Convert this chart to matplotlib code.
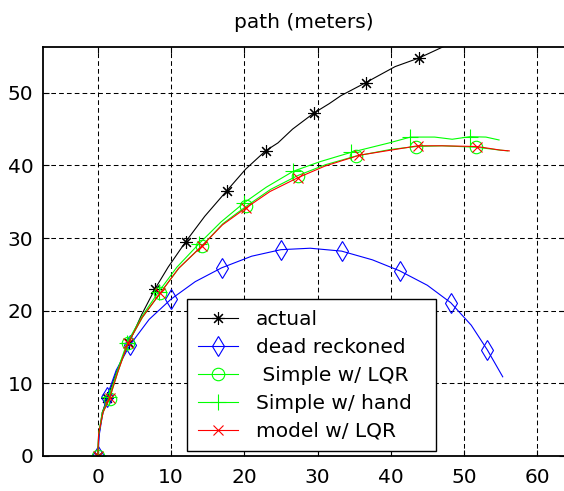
import matplotlib
matplotlib.use("Agg")
import matplotlib.pyplot as plt

plt.rcParams["font.family"] = "DejaVu Sans"

# path traces in meters (x east, y north); marker lists pick samples to mark
actual_x = [0, 0.1, 0.6, 1.3, 2.5, 4.2, 6.0, 7.8, 9.6, 12.0, 14.6, 17.6, 20.2,
            22.9, 24.6, 26.6, 29.5, 31.6, 33.2, 36.6, 38.6, 40.6, 43.9, 47.1, 49.0]
actual_y = [0, 2.6, 6.0, 8.0, 11.5, 15.5, 19.5, 23.0, 26.0, 29.5, 33.0, 36.5, 39.5,
            42.0, 43.1, 45.0, 47.2, 48.5, 49.6, 51.4, 52.5, 53.6, 54.8, 56.3, 57.2]
actual_marks = [0, 3, 5, 7, 9, 11, 13, 16, 19, 22]

dead_x = [0, 0.2, 0.6, 1.2, 2.5, 4.4, 7.0, 10.0, 13.3, 16.9, 21.0, 25.0, 29.0,
          33.3, 37.5, 41.2, 45.0, 48.2, 51.0, 53.2, 55.3]
dead_y = [0, 3.0, 5.5, 8.1, 11.8, 15.3, 18.8, 21.6, 24.0, 25.9, 27.5, 28.4, 28.6,
          28.2, 27.0, 25.5, 23.5, 21.1, 18.0, 14.6, 10.9]
dead_marks = [0, 3, 5, 7, 9, 11, 13, 15, 17, 19]

lqr_x = [0, 0.1, 0.7, 1.6, 2.7, 4.1, 6.1, 8.5, 11.1, 14.2, 17.1, 20.3, 23.6,
         27.3, 31.1, 35.3, 40.0, 43.5, 47.0, 51.7, 55.0, 56.0]
lqr_y = [0, 3.0, 6.0, 7.9, 11.5, 15.5, 19.1, 22.4, 25.9, 28.9, 32.0, 34.4, 36.7,
         38.6, 40.1, 41.3, 42.2, 42.6, 42.7, 42.5, 42.1, 42.0]
lqr_marks = [0, 3, 5, 7, 9, 11, 13, 15, 17, 19]

hand_x = [0, 0.1, 0.6, 1.5, 2.6, 4.0, 6.0, 8.3, 10.8, 13.8, 16.8, 19.9, 23.0,
          26.7, 30.3, 34.6, 39.8, 42.7, 46.0, 48.4, 50.8, 53.0, 54.8]
hand_y = [0, 3.0, 6.0, 8.1, 11.6, 15.6, 19.2, 22.6, 26.0, 29.2, 32.2, 34.8, 37.0,
          39.2, 40.5, 41.8, 43.1, 43.9, 43.9, 43.6, 43.95, 43.9, 43.5]
hand_marks = [0, 3, 5, 7, 9, 11, 13, 15, 17, 20]

model_x = [0, 0.1, 0.7, 1.6, 2.7, 4.1, 6.0, 8.5, 11.0, 14.2, 17.0, 20.3, 23.5,
           27.3, 31.0, 35.7, 40.0, 43.7, 47.0, 51.8, 55.0, 56.2]
model_y = [0, 3.0, 6.0, 8.0, 11.5, 15.5, 19.0, 22.4, 25.8, 28.9, 31.8, 34.2, 36.4,
           38.3, 39.9, 41.4, 42.1, 42.7, 42.7, 42.6, 42.1, 42.0]
model_marks = [0, 3, 5, 7, 9, 11, 13, 15, 17, 19]

fig = plt.figure(figsize=(5.64, 4.91), dpi=100)
ax = fig.add_axes([0.0762, 0.0713, 0.9255, 0.833])

lw = 0.8
ax.plot(actual_x, actual_y, color="black", lw=lw, marker=(8, 2, 0), ms=9,
        mew=0.8, markevery=actual_marks, label="actual")
ax.plot(dead_x, dead_y, color="blue", lw=lw, marker="d", ms=10.5, mfc="none",
        mew=0.8, markevery=dead_marks, label="dead reckoned")
ax.plot(lqr_x, lqr_y, color="#00ff00", lw=lw, marker="o", ms=9, mfc="none",
        mew=0.8, markevery=lqr_marks, label=" Simple w/ LQR")
ax.plot(hand_x, hand_y, color="#00ff00", lw=lw, marker="+", ms=11,
        mew=0.8, markevery=hand_marks, label="Simple w/ hand")
ax.plot(model_x, model_y, color="red", lw=lw, marker="x", ms=6.5,
        mew=0.8, markevery=model_marks, label="model w/ LQR")

ax.set_xlim(-7.5, 63.8)
ax.set_ylim(0, 56.3)
ax.set_xticks(range(0, 61, 10))
ax.set_yticks(range(0, 51, 10))
ax.grid(True, color="black", linestyle=(0, (4.5, 3)), linewidth=0.75)
ax.set_axisbelow(True)
ax.tick_params(direction="in", length=4, width=0.8, top=True, right=True,
               labelsize=14.5, colors="black")
ax.tick_params(axis="x", pad=9)
ax.tick_params(axis="y", pad=7)
for s in ax.spines.values():
    s.set_linewidth(1.3)

ax.set_title("path (meters)", fontsize=14.5, pad=14)

leg = ax.legend(loc="lower left", bbox_to_anchor=(0.276, 0.012, 0.477, 0.374),
                mode="expand", fontsize=14.5, frameon=True, fancybox=False,
                handlelength=2.0, handletextpad=0.9, labelspacing=0.445,
                borderpad=0.52, borderaxespad=0)
leg.get_frame().set_edgecolor("black")
leg.get_frame().set_linewidth(1.0)
leg.get_frame().set_alpha(1)

fig.savefig("out.png", dpi=100)
